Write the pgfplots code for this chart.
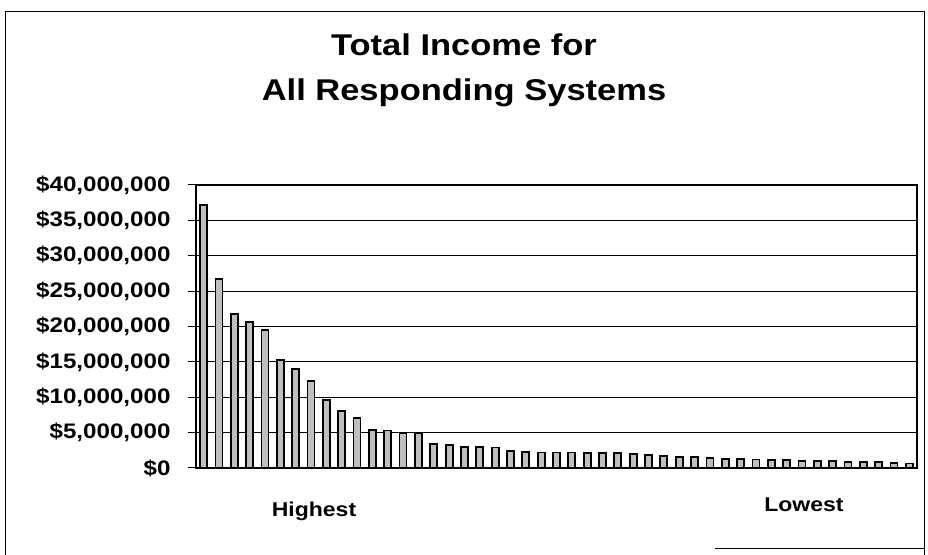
\documentclass[border=0pt]{standalone}
\usepackage{fontspec}
\setmainfont{Liberation Sans}[FakeStretch=1.15]
\usepackage{pgfplots}
\pgfplotsset{compat=1.18}

\pgfplotstableread{
rank income
1 37200000
2 26700000
3 21800000
4 20600000
5 19500000
6 15300000
7 14000000
8 12300000
9 9600000
10 8100000
11 7100000
12 5400000
13 5300000
14 5000000
15 5000000
16 3400000
17 3250000
18 3000000
19 3000000
20 2900000
21 2450000
22 2300000
23 2200000
24 2200000
25 2200000
26 2070000
27 2070000
28 2070000
29 1950000
30 1840000
31 1700000
32 1600000
33 1600000
34 1360000
35 1300000
36 1300000
37 1200000
38 1130000
39 1100000
40 1000000
41 1000000
42 950000
43 900000
44 800000
45 800000
46 700000
47 650000
}\incometable

\begin{document}
\begin{tikzpicture}
\useasboundingbox (0bp,0bp) rectangle (928bp,555bp);
% chart border (partly lost in the scan)
\draw[line width=1bp] (924bp,0bp) -- (924bp,543bp) -- (5bp,543bp) -- (5bp,0bp);
\draw[line width=1bp] (715bp,6bp) -- (924bp,6bp);

\node[anchor=base, font=\fontsize{30bp}{30bp}\selectfont\bfseries] at (464bp,499bp) {Total Income for};
\node[anchor=base, font=\fontsize{30bp}{30bp}\selectfont\bfseries] at (464bp,454bp) {All Responding Systems};

\begin{axis}[
    at={(196bp,87bp)}, anchor=south west,
    width=721bp, height=283bp, scale only axis,
    ybar, bar width=7bp,
    xmin=0.5, xmax=47.5,
    ymin=0, ymax=40000000,
    xtick=\empty,
    ytick={0,5000000,10000000,15000000,20000000,25000000,30000000,35000000,40000000},
    yticklabels={{\$0},{\$5,000,000},{\$10,000,000},{\$15,000,000},{\$20,000,000},{\$25,000,000},{\$30,000,000},{\$35,000,000},{\$40,000,000}},
    yticklabel style={font=\fontsize{21bp}{21bp}\selectfont\bfseries, anchor=east, xshift=-14bp},
    ytick align=outside, ytick pos=left,
    major tick length=8bp,
    tick style={black, line width=1bp},
    ymajorgrids,
    major grid style={black, line width=0.9bp},
    axis line style={black, line width=1.6bp},
    scaled y ticks=false,
    clip=false,
]
\addplot[fill=black!25, draw=black, line width=1.8bp] table[x=rank, y=income] {\incometable};
\end{axis}

\node[anchor=base, font=\fontsize{20bp}{20bp}\selectfont\bfseries] at (314bp,39bp) {Highest};
\node[anchor=base, font=\fontsize{20bp}{20bp}\selectfont\bfseries] at (804bp,43bp) {Lowest};
\end{tikzpicture}
\end{document}
